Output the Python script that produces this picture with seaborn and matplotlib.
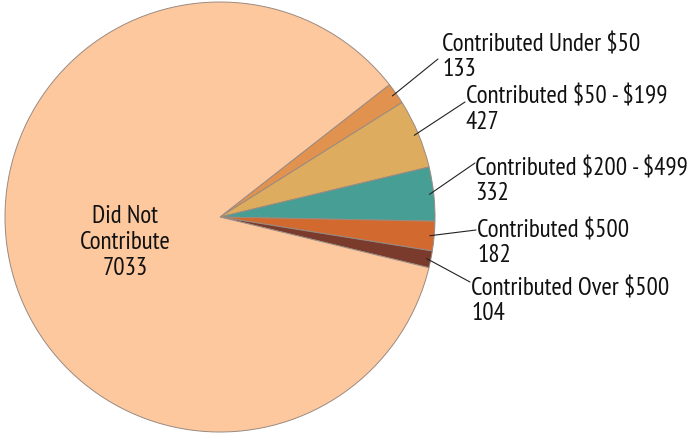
import numpy as np
import matplotlib
matplotlib.use('Agg')
import matplotlib.pyplot as plt
import seaborn as sns

# dados do gráfico
categorias = ['Contributed Under $50', 'Contributed $50 - $199', 'Contributed $200 - $499',
              'Contributed $500', 'Contributed Over $500', 'Did Not Contribute']
valores = [133, 427, 332, 182, 104, 7033]
cores = ['#E2924F', '#DDAC5E', '#479E94', '#D26A30', '#7A3B2C', '#FDC89E']

sns.set_style('white')
plt.rcParams['font.family'] = ['PT Sans Narrow', 'DejaVu Sans']

W, H = 689, 433
cx, cy, R = 220, 217, 215

fig = plt.figure(figsize=(W / 100, H / 100), dpi=100)
ax = fig.add_axes([(cx - R) / W, (H - cy - R) / H, 2 * R / W, 2 * R / H])

wedges, _ = ax.pie(valores, colors=cores, startangle=38, counterclock=False,
                   radius=1.0, center=(0, 0),
                   wedgeprops=dict(edgecolor='#9a8a80', linewidth=0.7))
ax.set_xlim(-1, 1)
ax.set_ylim(-1, 1)
ax.set_aspect('equal')
ax.axis('off')


def px(x, y):
    return ((x - cx) / R, (cy - y) / R)


def linhas(x, y0, textos, ha='left', passo=25):
    for i, t in enumerate(textos):
        ax.text(*px(x, y0 + i * passo), t, ha=ha, va='baseline', fontsize=18,
                color='#111111', clip_on=False, parse_math=False)


# posições dos rótulos (pixels): fim da linha, x do texto, linha de base
rotulos = [((438, 59), 442, 51),
           ((465, 102), 466, 104),
           ((475, 163), 475, 175),
           ((476, 230), 477, 237),
           ((470, 282), 471, 295)]

for w, val, nome, (fim, tx, ty) in zip(wedges[:5], valores[:5], categorias[:5], rotulos):
    ang = np.deg2rad((w.theta1 + w.theta2) / 2)
    r0 = 0.98
    ax.annotate('', xy=(r0 * np.cos(ang), r0 * np.sin(ang)), xytext=px(*fim),
                arrowprops=dict(arrowstyle='-', color='#222222', lw=0.8,
                                shrinkA=0, shrinkB=0),
                annotation_clip=False)
    linhas(tx, ty, [nome, str(val)])

linhas(125, 223, ['Did Not', 'Contribute', str(valores[5])], ha='center', passo=26)

fig.savefig('out.png', dpi=100)
